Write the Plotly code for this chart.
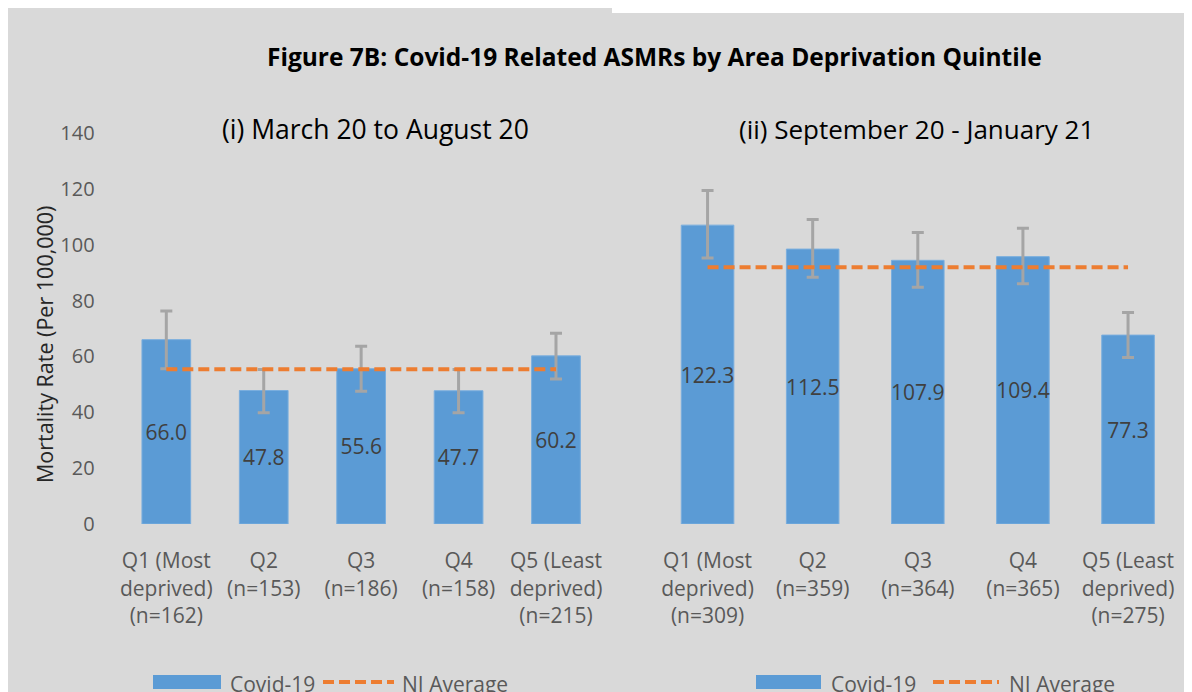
import plotly.graph_objects as go

# page offset (browser body margin) is 8px; figure fills the rest of the 1192x692 window
OFF = 8
W, H = 1192 - OFF, 692 - OFF

# ---- data ----
cats_1 = ["Q1 (Most<br>deprived)<br>(n=162)", "Q2<br>(n=153)", "Q3<br>(n=186)",
          "Q4<br>(n=158)", "Q5 (Least<br>deprived)<br>(n=215)"]
rates_1 = [66.0, 47.8, 55.6, 47.7, 60.2]
ci_low_1 = [55.6, 39.8, 47.5, 39.8, 51.9]
ci_high_1 = [76.3, 55.3, 63.6, 55.3, 68.3]
ni_avg_1 = 55.4

cats_2 = ["Q1 (Most<br>deprived)<br>(n=309)", "Q2<br>(n=359)", "Q3<br>(n=364)",
          "Q4<br>(n=365)", "Q5 (Least<br>deprived)<br>(n=275)"]
rates_2 = [122.3, 112.5, 107.9, 109.4, 77.3]
ci_low_2 = [108.9, 101.0, 96.9, 98.3, 68.1]
ci_high_2 = [136.5, 124.6, 119.3, 121.0, 86.5]
ni_avg_2 = 105.1

title = "Figure 7B: Covid-19 Related ASMRs by Area Deprivation Quintile"
sub_1 = "(i) March 20 to August 20"
sub_2 = "(ii) September 20 - January 21"
y_title = "Mortality Rate (Per 100,000)"

BLUE = "#5b9bd5"
ORANGE = "#ed7d31"
ERR = "#a5a5a5"
TICK = "#595959"
BG = "#d9d9d9"
FONT = "Open Sans"


def px(x):
    return (x - OFF) / W


def py(y):
    return 1 - (y - OFF) / H


fig = go.Figure()


def add_panel(cats, rates, lo, hi, avg, xa, ya):
    fig.add_trace(go.Bar(
        x=cats, y=rates, xaxis=xa, yaxis=ya, name="Covid-19", showlegend=False,
        marker=dict(color=BLUE, line=dict(color="#7aaede", width=1)),
        text=[f"{v:.1f}" for v in rates], textposition="inside",
        insidetextanchor="middle", constraintext="none", textangle=0,
        insidetextfont=dict(family=FONT, size=21, color="#404040"),
        error_y=dict(type="data", symmetric=False,
                     array=[h - v for h, v in zip(hi, rates)],
                     arrayminus=[v - l for v, l in zip(rates, lo)],
                     color=ERR, thickness=3, width=6),
    ))
    fig.add_trace(go.Scatter(
        x=cats, y=[avg] * len(cats), xaxis=xa, yaxis=ya, mode="lines",
        name="NI Average", showlegend=False,
        line=dict(color=ORANGE, width=4, dash="11px,5px"),
    ))


add_panel(cats_1, rates_1, ci_low_1, ci_high_1, ni_avg_1, "x", "y")
add_panel(cats_2, rates_2, ci_low_2, ci_high_2, ni_avg_2, "x2", "y2")

ydom = [py(524), py(133)]
xcommon = dict(type="category", showgrid=False, showline=False, zeroline=False,
               ticks="outside", ticklen=18, tickcolor="rgba(0,0,0,0)",
               tickfont=dict(family=FONT, size=21, color=TICK), automargin=False)

shapes = [
    # white notch at the top right of the grey panel
    dict(type="rect", xref="paper", yref="paper", x0=px(612), x1=1, y0=py(13), y1=1,
         fillcolor="white", line=dict(width=0), layer="below"),
]


def ann(text, x, y, size, color, **kw):
    d = dict(text=text, x=px(x), y=py(y), xref="paper", yref="paper", showarrow=False,
             xanchor=kw.pop("xanchor", "center"), yanchor="middle",
             font=dict(family=FONT, size=size, color=color))
    d.update(kw)
    return d


annotations = [
    ann("<b>" + title + "</b>", 654, 56, 24.5, "#000000"),
    ann(sub_1, 375, 129, 26.5, "#000000"),
    ann(sub_2, 916, 129, 26, "#000000"),
    ann(y_title, 44, 345, 21.5, "#262626", textangle=-90),
]

# legends (one per panel)
for rx0, rx1, tx1, lx0, lx1, tx2 in [(153, 221, 228, 323, 394, 400),
                                    (756, 821, 829, 933, 999, 1007)]:
    shapes.append(dict(type="rect", xref="paper", yref="paper", x0=px(rx0), x1=px(rx1),
                       y0=py(689), y1=py(675), fillcolor=BLUE, line=dict(width=0)))
    shapes.append(dict(type="line", xref="paper", yref="paper", x0=px(lx0), x1=px(lx1),
                       y0=py(682), y1=py(682), line=dict(color=ORANGE, width=4, dash="11px,5px")))
    annotations.append(ann("Covid-19", tx1, 684, 21, TICK, xanchor="left"))
    annotations.append(ann("NI Average", tx2, 684, 21, TICK, xanchor="left"))

fig.update_layout(
    width=W, height=H, margin=dict(l=0, r=0, t=0, b=0),
    paper_bgcolor=BG, plot_bgcolor="rgba(0,0,0,0)",
    bargap=0.5, showlegend=False,
    xaxis=dict(domain=[px(117.6), px(604.7)], anchor="y", **xcommon),
    xaxis2=dict(domain=[px(655), px(1180.6)], anchor="y2", **xcommon),
    yaxis=dict(domain=ydom, range=[0, 140], dtick=20, showgrid=False, zeroline=False,
               showline=False, ticks="outside", ticklen=18, tickcolor="rgba(0,0,0,0)",
               tickfont=dict(family=FONT, size=20, color=TICK), anchor="x", automargin=False),
    yaxis2=dict(domain=ydom, range=[0, 160], visible=False, anchor="x2"),
    shapes=shapes, annotations=annotations,
)

fig.write_html("out.html")
